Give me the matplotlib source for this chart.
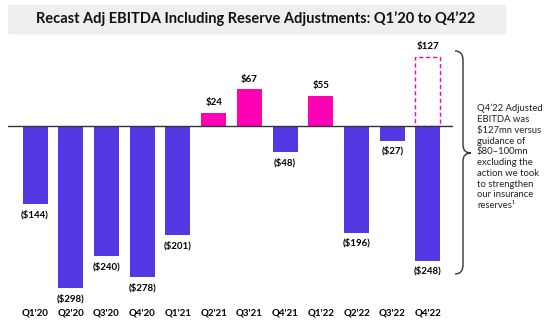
import matplotlib.pyplot as plt
from matplotlib.patches import Rectangle, PathPatch
from matplotlib.path import Path
import numpy as np

quarters = ["Q1'20", "Q2'20", "Q3'20", "Q4'20", "Q1'21", "Q2'21",
            "Q3'21", "Q4'21", "Q1'22", "Q2'22", "Q3'22", "Q4'22"]
ebitda = [-144, -298, -240, -278, -201, 24, 67, -48, 55, -196, -27, -248]
reported_q4 = 127
labels = ["($144)", "($298)", "($240)", "($278)", "($201)", "$24",
          "$67", "($48)", "$55", "($196)", "($27)", "($248)"]

PURPLE = "#5438E4"
PINK = "#FF00B4"
W, H = 553, 336

plt.rcParams['font.family'] = ['Lato', 'DejaVu Sans']

fig = plt.figure(figsize=(W / 100, H / 100), dpi=100)


def fx(px):
    return px / W


def fy(py):
    return 1 - py / H


# title banner
fig.patches.append(Rectangle((fx(8), fy(33)), fx(497), 28 / H,
                             transform=fig.transFigure, color="#efefef",
                             zorder=0))
fig.text(fx(256), fy(19), "Recast Adj EBITDA Including Reserve Adjustments: Q1\u201920 to Q4\u201922",
         ha="center", va="center", fontsize=10.5, fontweight="bold",
         color="#111111")

# axes in pixel coords: left 8, right 453, top 40, bottom 300
ax = fig.add_axes([fx(8), fy(300), fx(445), 260 / H])
x = np.arange(len(quarters))
colors = [PINK if v > 0 else PURPLE for v in ebitda]
ax.bar(x, ebitda, width=0.7, color=colors, zorder=2)
ax.bar(x[-1], reported_q4, width=0.7, fill=False, edgecolor=PINK,
       linestyle=(0, (3, 2)), linewidth=1.0, zorder=2)

ax.set_xlim(-0.756, 11.70)
ax.set_ylim(-320, 158)
ax.axhline(0, color="#333333", linewidth=1.0, zorder=3)

for i, (v, lab) in enumerate(zip(ebitda, labels)):
    if v > 0:
        ax.annotate(lab, (i, v), xytext=(0, 4), textcoords="offset points",
                    ha="center", va="bottom", fontsize=7, fontweight="bold")
    else:
        ax.annotate(lab, (i, v), xytext=(0, -4), textcoords="offset points",
                    ha="center", va="top", fontsize=7, fontweight="bold")
ax.annotate("$%d" % reported_q4, (x[-1], reported_q4), xytext=(0, 4),
            textcoords="offset points", ha="center", va="bottom",
            fontsize=7, fontweight="bold")

ax.set_xticks(x)
ax.set_xticklabels(quarters, fontsize=7, fontweight="bold")
ax.tick_params(axis="x", length=0, pad=6)
ax.set_yticks([])
for s in ax.spines.values():
    s.set_visible(False)

# curly brace on the right
x0, xv, xt = 455, 463, 471
ytop, ytip, ybot = 51, 153, 274
verts = [
    (x0, ytop), (xv, ytop), (xv, ytop + 9),
    (xv, ytip - 8), (xv, ytip), (xt, ytip),
    (xv, ytip), (xv, ytip + 8),
    (xv, ybot - 9), (xv, ybot), (x0, ybot),
]
codes = [Path.MOVETO, Path.CURVE3, Path.CURVE3,
         Path.LINETO, Path.CURVE3, Path.CURVE3,
         Path.CURVE3, Path.CURVE3,
         Path.LINETO, Path.CURVE3, Path.CURVE3]
verts = [(fx(a), fy(b)) for a, b in verts]
fig.patches.append(PathPatch(Path(verts, codes), transform=fig.transFigure,
                             fill=False, edgecolor="#333333", linewidth=1.0))

note = ("Q4\u201922 Adjusted\nEBITDA was\n$127mn versus\nguidance of\n"
        "$80\u2013100mn\nexcluding the\naction we took\nto strengthen\n"
        "our insurance\nreserves\u00b9")
fig.text(fx(477), fy(157), note, ha="left", va="center", fontsize=6.8,
         color="#222222", linespacing=1.25)

fig.savefig("out.png", dpi=100)
